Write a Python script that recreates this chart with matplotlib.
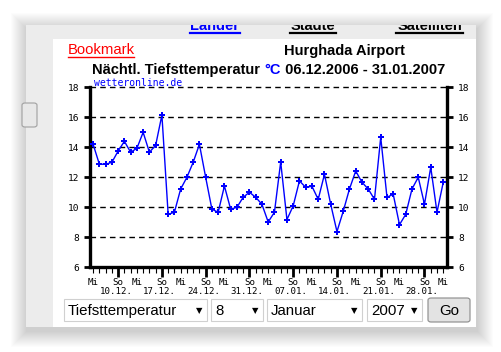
import matplotlib
matplotlib.use("Agg")
import matplotlib.pyplot as plt
from matplotlib.patches import Rectangle, FancyBboxPatch
from matplotlib.lines import Line2D

# nightly minimum temperatures, 06.12.2006 - 31.01.2007 (one value per day)
temps = [14.2, 12.87, 12.87, 13.0, 13.75, 14.4, 13.67, 13.93, 15.0, 13.67,
         14.13, 16.15, 9.53, 9.67, 11.22, 12.0, 13.0, 14.2, 12.0, 9.87,
         9.67, 11.42, 9.87, 10.0, 10.67, 11.0, 10.67, 10.2, 9.02, 9.67,
         13.02, 9.18, 10.1, 11.76, 11.33, 11.4, 10.53, 12.2, 10.2, 8.38,
         9.73, 11.22, 12.42, 11.67, 11.22, 10.53, 14.67, 10.67, 10.87, 8.84,
         9.53, 11.22, 12.0, 10.2, 12.67, 9.67, 11.67]
days = list(range(len(temps)))
wednesdays = [0, 7, 14, 21, 28, 35, 42, 49, 56]
sundays = [4, 11, 18, 25, 32, 39, 46, 53]
sunday_dates = ["10.12.", "17.12.", "24.12.", "31.12.", "07.01.", "14.01.", "21.01.", "28.01."]
y_ticks = [6, 8, 10, 12, 14, 16, 18]

W, H = 502, 352
mono = "DejaVu Sans Mono"
sans = "Liberation Sans"


def fx(x):
    return x / W


def fy(y):
    return 1 - y / H


fig = plt.figure(figsize=(W / 100, H / 100), dpi=100)
fig.patch.set_facecolor("white")

# soft drop shadow of the browser window
for i in range(16, 0, -1):
    fig.patches.append(Rectangle((fx(26 - i + 1), fy(327 + i + 4)), (450 + 2 * i) / W, (302 + 2 * i) / H,
                                 transform=fig.transFigure, facecolor="black", alpha=0.011,
                                 edgecolor="none", zorder=0))

panel = Rectangle((fx(26), fy(327)), 450 / W, 302 / H, transform=fig.transFigure,
                  facecolor="#ececec", edgecolor="none", zorder=1)
fig.patches.append(panel)
fig.patches.append(Rectangle((fx(53), fy(327)), 423 / W, 288 / H, transform=fig.transFigure,
                             facecolor="white", edgecolor="none", zorder=2))

# half-hidden nav links at the top
for label, x0, x1, col in [("Länder", 190, 240, "#0000ff"), ("Städte", 290, 336, "black"),
                           ("Satelliten", 396, 463, "black")]:
    t = fig.text(fx((x0 + x1) / 2), fy(30.5), label, ha="center", va="baseline",
                 fontsize=10.5, fontweight="bold", color=col, family=sans, zorder=3)
    t.set_clip_path(panel)
    fig.lines.append(Line2D([fx(x0), fx(x1)], [fy(32.5), fy(32.5)], color=col, lw=1.6,
                            transform=fig.transFigure, zorder=3))

# small button on the left edge
fig.patches.append(FancyBboxPatch((fx(22), fy(127)), 15 / W, 24 / H, boxstyle="round,pad=0,rounding_size=0.006",
                                  transform=fig.transFigure, facecolor="#e8e8e8", edgecolor="#a0a0a0",
                                  lw=0.8, zorder=3))

# headings
fig.text(fx(68), fy(54.5), "Bookmark", color="#ff0000", fontsize=10.7, family=sans,
         va="baseline", ha="left", zorder=3)
fig.lines.append(Line2D([fx(68), fx(134)], [fy(57.3), fy(57.3)], color="#ff0000", lw=1,
                        transform=fig.transFigure, zorder=3))
fig.text(fx(344), fy(54.5), "Hurghada Airport", fontsize=10.5, fontweight="bold", family=sans,
         va="baseline", ha="center", zorder=3)
t1 = fig.text(fx(92), fy(74), "Nächtl. Tiefsttemperatur ", fontsize=10.5, fontweight="bold",
              family=sans, va="baseline", ha="left", zorder=3)
fig.canvas.draw()
r = fig.canvas.get_renderer()
bb = t1.get_window_extent(r)
t2 = fig.text(bb.x1 / W, fy(74), "°C", fontsize=10.5, fontweight="bold", family=sans,
              color="#0000ff", va="baseline", ha="left", zorder=3)
bb = t2.get_window_extent(r)
fig.text(bb.x1 / W, fy(74), " 06.12.2006 - 31.01.2007", fontsize=10.5, fontweight="bold",
         family=sans, va="baseline", ha="left", zorder=3)

# chart
ax = fig.add_axes([fx(90), fy(267.3), 357 / W, 180 / H], zorder=4)
ax.set_facecolor("white")
ax.plot(days, temps, color="#0000ff", lw=1, marker="P", markersize=4.5, markeredgewidth=0, zorder=3)
ax.set_xlim(-0.5, 56.6)
ax.set_ylim(6, 18)
for v in y_ticks[1:]:
    ax.axhline(v, color="black", lw=1, ls=(0, (4, 3)), zorder=1, clip_on=False)
for s in ["left", "right", "bottom"]:
    ax.spines[s].set_linewidth(2.4)
ax.spines["top"].set_visible(False)
ax.set_yticks(y_ticks)
ax.tick_params(axis="y", which="major", direction="out", length=4, width=2,
               left=True, right=True, labelleft=True, labelright=True, labelsize=6.8, pad=4)
for lab in ax.get_yticklabels():
    lab.set_family(mono)
ax.set_xticks(sundays)
ax.set_xticks(days, minor=True)
ax.set_xticklabels([])
ax.tick_params(axis="x", which="major", direction="out", length=7, width=2)
ax.tick_params(axis="x", which="minor", direction="out", length=4, width=0.8)

tr = ax.get_xaxis_transform()
lab_y = -(282.5 - 267.3) / 180
date_y = -(291.5 - 267.3) / 180
for d in wednesdays:
    ax.text(d, lab_y, "Mi", transform=tr, ha="center", va="center", fontsize=6.6, family=mono)
for d, ds in zip(sundays, sunday_dates):
    ax.text(d, lab_y, "So", transform=tr, ha="center", va="center", fontsize=6.6, family=mono)
    ax.text(d - 0.35, date_y, ds, transform=tr, ha="center", va="center", fontsize=6.6, family=mono)
ax.text(0.01, 1.025, "wetteronline.de", transform=ax.transAxes, color="#0000ff", fontsize=7,
        family=mono, ha="left", va="center")

# form controls under the chart
for label, x0, x1 in [("Tiefsttemperatur", 64, 207), ("8", 211, 263), ("Januar", 267, 362), ("2007", 367, 422)]:
    fig.patches.append(Rectangle((fx(x0), fy(320.5)), (x1 - x0) / W, 21.5 / H, transform=fig.transFigure,
                                 facecolor="white", edgecolor="#d0d0d0", lw=0.8, zorder=3))
    fig.text(fx(x0 + 4), fy(311), label, fontsize=10.8, family=sans, va="center", ha="left", zorder=4)
    fig.text(fx(x1 - 8), fy(311), "▼", fontsize=6, family="DejaVu Sans", va="center", ha="center", zorder=4)
fig.patches.append(FancyBboxPatch((fx(428), fy(322)), 42 / W, 24 / H, boxstyle="round,pad=0,rounding_size=0.006",
                                  transform=fig.transFigure, facecolor="#e3e3e3", edgecolor="#8a8a8a",
                                  lw=0.8, zorder=3))
fig.text(fx(449), fy(311), "Go", fontsize=10.8, family=sans, va="center", ha="center", zorder=4)

fig.savefig("out.png", dpi=100)
